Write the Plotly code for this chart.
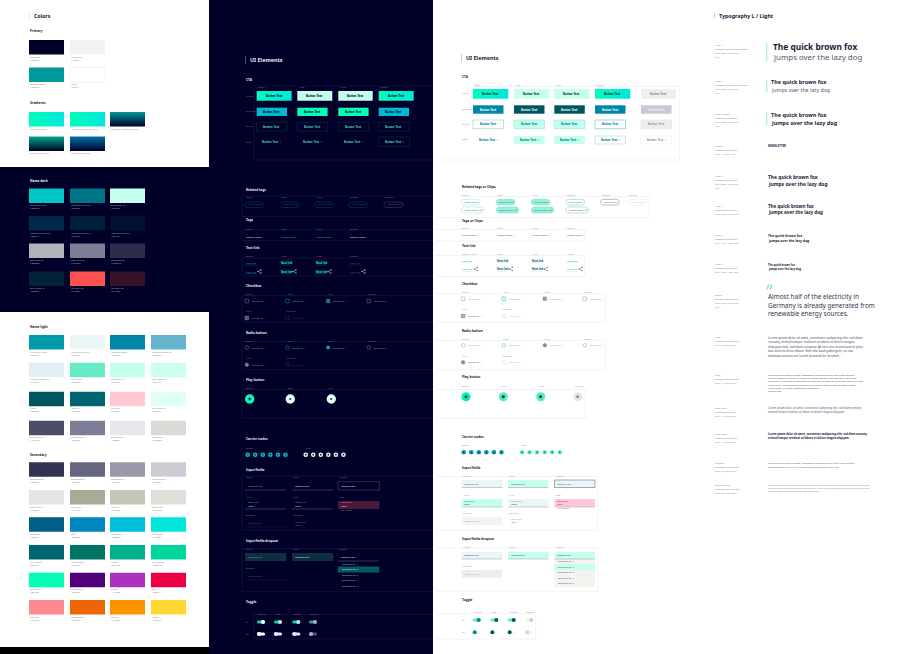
import plotly.graph_objects as go

# Colour sheet data
PRIMARY = ["#000028", "#F3F3EF", "#009999", "#FFFFFF"]
PRIMARY_NAMES = ["Deep Blue", "Light Sand", "Siemens Petrol", "White"]

GRADIENT_NAMES = ["Interactive Coral", "Interactive Coral 90 / Dark", "Gradient / Soft Dark Petrol",
                  "Gradient Dark Teal", "Gradient Dark Blue"]
GRADIENT_FROM = ["#00FFB9", "#00FFB9", "#000028", "#000028", "#000028"]
GRADIENT_TO = ["#00E6DC", "#00E6DC", "#009999", "#00A888", "#0073A8"]

DARK = ["#00C8C8", "#007587", "#C5FFEE",
        "#002949", "#001F39", "#00112F",
        "#B3B3BE", "#7D7D96", "#2D2D4B",
        "#00233A", "#FF5050", "#3A1228"]
DARK_NAMES = ["Interactive Cyan", "Interactive Cyan 70", "Soft Green 40",
              "Interactive Cyan 20", "Interactive Cyan 12", "Interactive Cyan 8",
              "Deep Blue 70", "Deep Blue 50", "Deep Blue 20",
              "Dark Green 12", "Red Dark 50", "Red Dark 20"]

LIGHT = ["#009AA9", "#EAF6F6", "#0087A8", "#66B3CC",
         "#E1F0F5", "#66EBC6", "#C5FFEE", "#CCFFEE",
         "#005660", "#006472", "#FFC8D4", "#E0FFF3",
         "#4C4C68", "#7D7D96", "#E8E8EC", "#D9D9D6"]
LIGHT_NAMES = ["Interactive Light", "Interactive Light 8", "Interactive Blue", "Interactive Blue 60",
               "Interactive Blue 12", "Soft Green", "Soft Green 40", "Soft Green 20",
               "Hover", "Hover 2", "Soft Red", "Soft Green 12",
               "Deep Blue 70", "Deep Blue 50", "Deep Blue 8", "Sand Dark"]

SECONDARY = ["#333353", "#666680", "#9999A9", "#CCCCD4",
             "#E5E5E9", "#AAAA96", "#C5C5B8", "#DFDFD9",
             "#005F87", "#0087BE", "#00BEDC", "#00E6DC",
             "#006473", "#007566", "#00AF8E", "#00D7A0",
             "#00FFB9", "#500078", "#AA32BE", "#EC0044",
             "#FF8A93", "#EC6602", "#FF9000", "#FFD732"]
SECONDARY_NAMES = ["Deep Blue 80", "Deep Blue 60", "Deep Blue 40", "Deep Blue 20",
                   "Deep Blue 10", "Sand Dark", "Sand 60", "Sand Light",
                   "Dark Blue", "Blue", "Light Blue", "Light Cyan",
                   "Dark Petrol", "Petrol Green", "Green", "Light Green",
                   "Soft Green", "Dark Purple", "Purple", "Red",
                   "Soft Red", "Dark Orange", "Orange", "Yellow"]

# UI sheet labels
STATES = ["Default", "Hover", "Active", "Focused", "Disabled"]
BUTTON_ROWS = ["Primary", "Secondary", "Tertiary", "Ghost"]
INPUT_STATES = ["Default", "Hover", "Focused", "Active", "Filled", "Error", "Disabled", "Read only"]
OPTIONS = ["Selection no. 1", "Selection no. 2", "Selection no. 3", "Selection no. 4", "Selection no. 5"]

# Typography sheet
TYPE_META = [["Hero 1", "Siemens Sans Black & Roman", "Size: 30px, Line: 37px", "-0,3"],
             ["Hero 2", "Siemens Sans Black & Roman", "Size: 20px, Line: 27px", "-0,2"],
             ["Hero 2, Black", "Siemens Sans Black", "Size: 20px, Line: 27px", "-0,2"],
             ["Tagline", "Siemens Sans Black", "Size: 14, Line: 14px", "1"],
             ["Hero 3", "Siemens Sans Black", "Size: 20px, Line: 26px", "-0,2"],
             ["Hero 4", "Siemens Sans Black", "Size: 18px, Line: 24px"],
             ["Hero 5", "Siemens Sans Black", "Size: 14px, Line: 18px"],
             ["Hero 6", "Siemens Sans Black", "Size: 12px, Line: 18px"],
             ["Quote", "Siemens Sans Roman", "Size: 24px, Line: 34px", "-0,2"],
             ["Intro", "Siemens Sans Roman", "Size: 15, Line: 24px"],
             ["Copy", "Siemens Sans Roman", "Size: 14, Line: 24px"],
             ["Copy bold", "Siemens Sans Bold", "Size: 14, Line: 24px"],
             ["Copy Black", "Siemens Sans Black", "Size: 14, Line: 24px"],
             ["Caption", "Siemens Sans Roman", "Size: 12, Line: 24px"],
             ["Caption small", "Siemens Sans Roman", "Size: 10, Line: 20px"]]
FOX = ["The quick brown fox", "jumps over the lazy dog"]
QUOTE = ["Almost half of the electricity in", "Germany is already generated from", "renewable energy sources."]
BODY = ["Lorem ipsum dolor sit amet, consetetur sadipscing elitr, sed diam",
        "nonumy eirmod tempor invidunt ut labore et dolore magna",
        "aliquyam erat, sed diam voluptua. At vero eos et accusam et justo",
        "duo dolores et ea rebum. Stet clita kasd gubergren, no sea",
        "takimata sanctus est Lorem ipsum dolor sit amet."]
INTRO = ["Lorem ipsum dolor sit amet, consetetur sadipscing elitr, sed diam nonumy",
         "eirmod tempor invidunt ut labore et dolore magna aliquyam erat, sed diam",
         "voluptua. At vero eos et accusam et justo duo dolores et ea rebum. Stet clita kasd",
         "gubergren, no sea takimata sanctus est Lorem ipsum dolor sit amet. Lorem",
         "ipsum dolor sit amet, consetetur sadipscing."]
COPY = ["Lorem ipsum dolor sit amet, consetetur sadipscing elitr, sed diam nonumy",
        "eirmod tempor invidunt ut labore et dolore magna aliquyam"]
SMALL = ["Lorem ipsum dolor sit amet, consetetur sadipscing elitr, sed diam nonumy eirmod tempor invidunt ut labore",
         "et dolore magna aliquyam erat, sed diam voluptua. At vero eos et accusam et justo duo dolores et ea rebum.",
         "Stet clita kasd gubergren, no sea takimata sanctus est."]

FONT = "Noto Sans"
NAVY = "#000028"
MINT = "#00FFB9"
PALE = "#C5FFEE"
PETROL = "#009AA9"
DARK_LINE = "#14234F"
LIGHT_LINE = "#E3E6F2"
CLEAR = "rgba(0,0,0,0)"
COLS = [29, 70, 110, 151]
SW_W, SW_H = 35, 14.5

fig = go.Figure()
shapes = []
notes = []


def box(x0, y0, x1, y1, fill=None, line=None, w=0.5, layer="above"):
    shapes.append(dict(type="rect", x0=x0, y0=y0, x1=x1, y1=y1, layer=layer, fillcolor=fill or CLEAR,
                       line=dict(color=line or CLEAR, width=w if line else 0)))


def dot(cx, cy, r, fill=None, line=None, w=0.5):
    shapes.append(dict(type="circle", x0=cx - r, y0=cy - r, x1=cx + r, y1=cy + r, layer="above",
                       fillcolor=fill or CLEAR, line=dict(color=line or CLEAR, width=w if line else 0)))


def seg(x0, y0, x1, y1, color, w=0.5):
    shapes.append(dict(type="line", x0=x0, y0=y0, x1=x1, y1=y1, layer="above", line=dict(color=color, width=w)))


def poly(path, fill=None, line=None, w=0.5):
    shapes.append(dict(type="path", path=path, layer="above", fillcolor=fill or CLEAR,
                       line=dict(color=line or CLEAR, width=w if line else 0)))


def pill(x0, y0, x1, y1, fill=None, line=None, w=0.5):
    r = (y1 - y0) / 2
    poly(f"M {x0 + r} {y0} L {x1 - r} {y0} C {x1 + r / 3} {y0} {x1 + r / 3} {y1} {x1 - r} {y1} "
         f"L {x0 + r} {y1} C {x0 - r / 3} {y1} {x0 - r / 3} {y0} {x0 + r} {y0} Z", fill, line, w)


def label(x, y, s, size=2.6, color="#555", bold=False, anchor="left"):
    notes.append(dict(x=x, y=y, text=s, showarrow=False, xanchor=anchor, yanchor="middle", borderpad=0,
                      font=dict(family=FONT, size=size, color=color, weight=700 if bold else 400)))


def gradient(x0, y0, x1, y1, c0, c1, kind="horizontal"):
    fig.add_trace(go.Scatter(x=[x0, x1, x1, x0, x0], y=[y0, y0, y1, y1, y0], mode="lines", fill="toself",
                             line=dict(width=0), hoverinfo="skip", showlegend=False,
                             fillgradient=dict(type=kind, colorscale=[[0, c0], [1, c1]])))


def swatches(colours, names, tops, n_cols, cap_color):
    for i, (c, name) in enumerate(zip(colours, names)):
        x, y = COLS[i % n_cols], tops[i // n_cols]
        box(x, y, x + SW_W, y + SW_H, fill=c, line="#E6E6E6" if c == "#FFFFFF" else None)
        label(x, y + SW_H + 2.7, name, 2.2, cap_color)
        label(x, y + SW_H + 5.7, c, 2.2, cap_color)


def section(x, y, s, color):
    label(x, y, s, 3.2, color, True)


def states(y, xs, names, color):
    for x, s in zip(xs, names):
        label(x, y, s, 2.1, color)


def btn(x0, y0, x1, y1, fill, s, tc, line=None, w=0.5, grad=False, size=2.8):
    if grad:
        gradient(x0, y0, x1, y1, MINT, "#00E6DC")
    box(x0, y0, x1, y1, fill=None if grad else fill, line=line, w=w)
    label((x0 + x1) / 2, (y0 + y1) / 2, s, size, tc, True, "center")


def share(x, y, color):
    poly(f"M {x + 3} {y - 1.6} L {x} {y} L {x + 3} {y + 1.6}", line=color, w=0.4)
    dot(x, y, 0.6, fill=color)
    dot(x + 3, y - 1.6, 0.6, fill=color)
    dot(x + 3, y + 1.6, 0.6, fill=color)


def play(cx, cy, r, fill, inner, tri):
    dot(cx, cy, r, fill=fill)
    dot(cx, cy, r * 0.38, fill=inner)
    poly(f"M {cx - 0.8} {cy - 1.3} L {cx + 1.3} {cy} L {cx - 0.8} {cy + 1.3} Z", fill=tri)


def toggle(x0, y, on, track, knob):
    pill(x0, y - 1.6, x0 + 8, y + 1.6, fill=track)
    dot(x0 + 6 if on else x0 + 2, y, 2, fill=knob)


# ------- page backgrounds
box(209, 0, 433, 654, fill=NAVY, layer="below")
box(0, 167, 209, 312, fill=NAVY, layer="below")
box(0, 647, 209, 654, fill="#000000", layer="below")

# ------- colours column
box(29.3, 13.5, 29.7, 18.5, fill="#66EBC6")
label(33, 16, "Colors", 5.2, "#1B1B3A", True)
section(29, 30.5, "Primary", "#222")
swatches(PRIMARY[:2], PRIMARY_NAMES[:2], [40], 2, "#888")
swatches(PRIMARY[2:], PRIMARY_NAMES[2:], [67.5], 2, "#888")
section(29, 102.7, "Gradients", "#222")
grad_x = [29, 70, 110, 29, 70]
grad_y = [112, 112, 112, 136.5, 136.5]
for i in range(5):
    kind = "horizontal" if i < 2 else "vertical"
    gradient(grad_x[i], grad_y[i], grad_x[i] + SW_W, grad_y[i] + SW_H, GRADIENT_FROM[i], GRADIENT_TO[i], kind)
    label(grad_x[i], grad_y[i] + SW_H + 2.7, GRADIENT_NAMES[i], 2.2, "#888")
section(29, 181, "Name dark", "#EEE")
swatches(DARK, DARK_NAMES, [188.5, 216, 243.5, 271.5], 3, "#A5A5B5")
section(29, 327.3, "Name light", "#222")
swatches(LIGHT, LIGHT_NAMES, [335, 362.7, 391.7, 420.7], 4, "#888")
section(29, 454.7, "Secondary", "#222")
swatches(SECONDARY, SECONDARY_NAMES, [462.3, 490, 517.3, 545, 572.7, 600], 4, "#888")

# ------- UI elements, dark
T, D, H = "#4FC4BC", "#77778F", "#E8E8F0"
box(245, 56, 245.5, 64, fill="#66B3CC")
label(249, 60, "UI Elements", 5.4, "#E8E8F0", True)
section(245, 79.5, "CTA", H)
seg(254, 86, 254, 160, DARK_LINE)
seg(254, 86, 433, 86, DARK_LINE)
seg(254, 160, 433, 160, DARK_LINE)
xs = [256.7, 297.3, 338.3, 378.7]
states(87.8, [x + 0.3 for x in xs], STATES, D)
for y, s in zip([96, 111.5, 126.5, 142], BUTTON_ROWS):
    label(245, y, s, 2.1, D)
for i, x in enumerate(xs):
    w1 = 35 if i != 2 else 34.4
    g = i in (0, 3)
    btn(x, 91, x + w1, 100.7, PALE if not g else None, "Button Text", NAVY, grad=g)
    btn(x, 107.7, x + 30.3, 116, "#00BBD0" if g else MINT, "Button Text", NAVY)
    btn(x, 122.3, x + 30.5, 131, None, "Button Text", T, line="#0E3A55")
    if i == 3:
        btn(x, 137, x + 31, 146.5, None, "Button Text  ›", T, line="#0E3A55")
    else:
        label(x + 15, 141.7, "Button Text  ›", 2.8, T, True, "center")

section(245, 189.7, "Related tags", H)
seg(242, 196, 433, 196, DARK_LINE)
seg(242, 196, 242, 216.5, DARK_LINE)
seg(242, 216.5, 433, 216.5, DARK_LINE)
chip_x = [245, 280, 315, 349, 384]
states(197, chip_x, STATES, D)
for i, x in enumerate(chip_x):
    pill(x, 202, x + 19, 207.6, line="#0E4A60" if i < 4 else "#556")
    label(x + 9.5, 204.8, "Lorem Ipsum", 2.3, "#1C6B80" if i < 4 else "#667", False, "center")

section(245, 219.7, "Tags", H)
seg(242, 230, 433, 230, DARK_LINE)
seg(242, 240.5, 433, 240.5, DARK_LINE)
seg(242, 230, 242, 240.5, DARK_LINE)
states(229, chip_x[:4], STATES, D)
for x, c in zip(chip_x[:4], [H, "#00C8B0", "#00C8B0", H]):
    label(x, 236.7, "Lorem Ipsum", 2.5, c)

section(245, 248, "Text link", H)
seg(242, 258, 433, 258, DARK_LINE)
seg(242, 276, 433, 276, DARK_LINE)
seg(242, 258, 242, 276, DARK_LINE)
states(256.7, chip_x[:4], STATES, D)
for x, c, bold, u in zip(chip_x[:4], ["#00A8B8", MINT, MINT, "#556"], [False, True, True, False],
                         ["#00A8B8", "#0A7", "#0A7", "#445"]):
    label(x, 263, "Next link", 2.5, c, bold)
    label(x, 271.5, "Next link", 2.5, c, bold)
    seg(x, 265, x + 11, 265, u, 0.3)
    seg(x, 273.5, x + 11, 273.5, u, 0.3)
    share(x + 13, 271.5, "#DDE")

# check boxes and radios
opt_x = [245, 285.7, 326.3, 367]
section(245, 286, "Checkbox", H)
states(294.7, opt_x, STATES, D)
seg(242, 295.5, 433, 295.5, DARK_LINE)
seg(242, 322, 433, 322, DARK_LINE)
seg(242, 295.5, 242, 322, DARK_LINE)
for x, c, f in zip(opt_x, ["#99A", "#00BBC8", "#3FA0A0", "#99A"], [None, None, "#2B6A70", None]):
    box(x, 299.2, x + 3.6, 302.8, fill=f, line=c, w=0.4)
    label(x + 5.7, 301, "option no. 1", 2.4, "#9A9AAE")
states(311.7, opt_x[:2], ["Filled", "Disabled"], D)
box(245, 316.2, 248.6, 319.8, fill="#556", line="#AAB", w=0.4)
label(250.7, 318, "option no. 1", 2.4, "#9A9AAE")
box(285.7, 316.2, 289.3, 319.8, line="#445", w=0.4)
label(291.4, 318, "option no. 1", 2.4, "#445")

section(245, 332.7, "Radio button", H)
states(341, opt_x, STATES, D)
seg(242, 341.5, 433, 341.5, DARK_LINE)
seg(242, 369.7, 433, 369.7, DARK_LINE)
seg(242, 341.5, 242, 369.7, DARK_LINE)
for x, c, f in zip(opt_x, ["#99A", "#00BBC8", "#00A8A0", "#99A"], [None, None, "#00A8A0", None]):
    dot(x + 1.8, 347.5, 1.8, fill=f, line=c, w=0.4)
    label(x + 5.7, 347.5, "option no. 1", 2.4, "#9A9AAE")
states(358.3, opt_x[:2], ["Filled", "Disabled"], D)
dot(246.8, 364.7, 1.8, fill="#778", line="#AAB", w=0.4)
label(250.7, 364.7, "option no. 1", 2.4, "#9A9AAE")
dot(287.5, 364.7, 1.8, line="#445", w=0.4)
label(291.4, 364.7, "option no. 1", 2.4, "#445")

section(245, 379.7, "Play button", H)
states(388.3, [245, 285.7, 326.3], STATES, D)
seg(242, 389.5, 433, 389.5, DARK_LINE)
seg(242, 418, 433, 418, DARK_LINE)
seg(242, 389.5, 242, 418, DARK_LINE)
for x, c, i2 in zip([249.7, 290.3, 331.3], [MINT, "#DFFFF6", "#DFFFF6"], ["#0A9A88", "#DFFFF6", "#DFFFF6"]):
    play(x, 399, 4.7, c, i2, NAVY)

section(245, 439, "Carrier nodes", H)
states(448, [245, 303.5], ["Default", "Hover"], D)
for k in range(6):
    dot(247.7 + k * 7.55, 454.7, 2.3, fill="#00BFC8")
    dot(247.7 + k * 7.55, 454.7, 0.9, fill="#004455")
    dot(305.7 + k * 7.55, 454.7, 2.3, fill="#E8FFF8")
    dot(305.7 + k * 7.55, 454.7, 0.9, fill="#002040")

# input fields
in_x = [245, 292, 338]
in_w = 41.3
section(245, 470, "Input fields", H)
seg(242, 476, 433, 476, DARK_LINE)
seg(242, 530, 433, 530, DARK_LINE)
seg(242, 476, 242, 530, DARK_LINE)
states(477.7, in_x, INPUT_STATES[:3], D)
for i, x in enumerate(in_x):
    if i == 2:
        box(x, 481.7, x + in_w, 490, line="#556", w=0.5)
    else:
        seg(x, 490, x + in_w, 490, "#667")
    label(x + 1.5, 485.8, "*Description", 2.4, "#9A9AAE" if i == 0 else H)
states(497, in_x, INPUT_STATES[3:6], D)
box(338, 501, 379.3, 509, fill="#4A1A38")
seg(245, 509, 286.3, 509, "#667")
seg(292, 509, 333.3, 509, "#667")
for x, c in zip(in_x, ["#00C8B0", "#8A8AA0", "#E07090"]):
    label(x + 1.5, 502.8, "*Description", 1.8, c)
    label(x + 1.5, 506, "Input", 2.4, H)
label(339, 510.8, "Error Message", 1.8, "#B07090")
states(515.7, in_x[:2], INPUT_STATES[6:], D)
seg(245, 527, 286.3, 527, "#223")
label(247, 523, "*Description", 2.4, "#556")
label(294, 522, "*Description", 1.8, "#778")
label(294, 525, "Input", 2.2, "#778")

section(245, 541.3, "Input fields dropout", H)
seg(242, 548.5, 433, 548.5, DARK_LINE)
seg(242, 591.7, 433, 591.7, DARK_LINE)
seg(242, 548.5, 242, 591.7, DARK_LINE)
states(549.3, in_x, INPUT_STATES[:3], D)
for i, x in enumerate(in_x):
    box(x, 553, x + in_w, 561, fill="#0C3040" if i < 2 else None)
    if i == 2:
        seg(x, 561, x + in_w, 561, "#667")
    label(x + 1.5, 557, "*Description", 2.4, "#9A9AAE" if i == 0 else H)
    label(x + in_w - 3, 557, "⌄", 2.4, "#AAB")
box(338, 566.5, 379.3, 572.5, fill="#005B66")
for k, s in enumerate(OPTIONS):
    label(341, 564 + k * 5.5, s, 2.3, "#B5B5C5" if k != 1 else H)
states(568, [245], ["Disabled"], D)
label(247, 576, "*Description", 2.4, "#556")
seg(245, 580, 286.3, 580, "#223")

section(245, 602, "Toggle", H)
seg(254, 614.5, 433, 614.5, DARK_LINE)
seg(254, 614.5, 254, 639, DARK_LINE)
seg(254, 639, 433, 639, DARK_LINE)
tog_x = [257, 274, 292.3, 309]
states(614, tog_x, ["Enabled", "Hover", "Focused", "Disabled"], D)
label(245, 622, "on", 2.2, D)
label(245, 634, "off", 2.2, D)
for x, tr, kn in zip(tog_x, ["#00D7A0", "#00D7A0", "#00D7A0", "#3A9A90"], ["#FFF", "#D8D8E0", "#D8D8E0", "#AAB"]):
    toggle(x, 622, True, tr, kn)
for x, tr, kn in zip(tog_x, ["#FFF", "#E8E8F0", "#E8E8F0", "#556"], ["#FFF", "#E8E8F0", "#E8E8F0", "#AAB"]):
    toggle(x, 634, False, tr, kn)

# ------- UI elements, light
T, D, H = "#00808F", "#999", "#222"
box(461, 54, 461.5, 62, fill="#66B3CC")
label(465, 58, "UI Elements", 5.4, "#1B1B3A", True)
section(461.3, 77.3, "CTA", H)
seg(473, 86.5, 679.3, 86.5, LIGHT_LINE)
seg(679.3, 86.5, 679.3, 160, LIGHT_LINE)
seg(435, 160, 679.3, 160, LIGHT_LINE)
xs = [473, 514, 554.3, 595, 641]
states(85, xs, STATES[:4], D)
for y, s in zip([93.7, 109.3, 124.7, 139.7], BUTTON_ROWS):
    label(461, y, s, 2.1, D)
for i, x in enumerate(xs):
    g = i in (0, 3)
    if i == 4:
        btn(x, 89, x + 35, 98.7, "#EEEEEE", "Button Text", "#888")
    else:
        btn(x, 89, x + 35.3, 98.7, PALE, "Button Text", "#00282A", grad=g)
    fill2 = {0: "#0087A8", 1: "#005660", 2: "#005660", 3: "#0087A8", 4: "#C8C8D0"}[i]
    btn(x, 105.3, x + 30.5, 113.7, fill2, "Button Text", "#E8FFFA" if i != 4 else "#EEE")
    fill3 = {0: "#FFF", 1: PALE, 2: PALE, 3: "#FFF", 4: "#EEEEEE"}[i]
    line3 = {0: "#66CCCC", 1: "#88D8C8", 2: "#88D8C8", 3: "#4FAFC0", 4: "#D8D8D8"}[i]
    btn(x, 120, x + 30.5, 128.7, fill3, "Button Text", T if i != 4 else "#999", line=line3)
    if i == 0:
        label(x + 15, 140, "Button Text  ›", 2.8, T, True, "center")
    else:
        fill4 = {1: PALE, 2: PALE, 3: "#FFF", 4: "#FFF"}[i]
        line4 = {1: None, 2: None, 3: "#8CC", 4: "#E8E8E8"}[i]
        btn(x, 136, x + 30.5, 144, fill4, "Button Text  ›", T if i != 4 else "#999", line=line4)

section(461.3, 187.3, "Related tags or Chips", H)
chip_x = [461.3, 496.3, 531.3, 566, 600.7, 628]
states(195.5, chip_x, STATES + ["Disabled"], D)
seg(461, 196.5, 649.5, 196.5, LIGHT_LINE)
seg(649.5, 196.5, 649.5, 217.5, LIGHT_LINE)
seg(435, 217.5, 649.5, 217.5, LIGHT_LINE)
chip_fill = [None, "#9CF0DA", "#9CF0DA", None, None, None]
chip_line = ["#9DDCD8", "#66D8C0", "#66D8C0", "#88B0BC", "#778", "#E4E4E4"]
for i, x in enumerate(chip_x):
    c = "#00808F" if i < 4 else ("#666" if i == 4 else "#CCC")
    pill(x, 199.3, x + 18.5, 205, fill=chip_fill[i], line=chip_line[i])
    label(x + 9.2, 202.2, "Lorem Ipsum", 2.3, c, False, "center")
    if i < 4:
        pill(x, 207, x + 22.5, 213, fill=chip_fill[i], line=chip_line[i])
        label(x + 10, 210, "Lorem Ipsum", 2.3, c, False, "center")
        poly(f"M {x + 18.5} 210 L {x + 19.5} 211 L {x + 21} 209", line="#456", w=0.4)

section(461.3, 220.5, "Tags or Chips", H)
states(228.5, chip_x[:4], STATES, D)
seg(435, 229.5, 585, 229.5, LIGHT_LINE)
seg(585, 229.5, 585, 241, LIGHT_LINE)
seg(435, 241, 585, 241, LIGHT_LINE)
for x in chip_x[:4]:
    label(x, 234.7, "Lorem Ipsum  ×", 2.4, "#556")

section(461.3, 246, "Text link", H)
states(254, chip_x[:4], ["Default / Active", "Hover", "Active", "Visited"], D)
seg(435, 255.5, 584.5, 255.5, LIGHT_LINE)
seg(584.5, 255.5, 584.5, 276.5, LIGHT_LINE)
seg(435, 276.5, 584.5, 276.5, LIGHT_LINE)
for x, c, bold in zip(chip_x[:4], ["#00A090", "#005660", "#005660", "#00A090"], [False, True, True, False]):
    label(x, 260.7, "Next link", 2.5, c, bold)
    label(x, 269, "Next link", 2.5, c, bold)
    seg(x, 262.8, x + 11, 262.8, "#9CC", 0.3)
    seg(x, 271.2, x + 11, 271.2, "#9CC", 0.3)
    share(x + 13, 269, "#556")

opt_x = [461.3, 502, 543, 583]
section(461.3, 284, "Checkbox", H)
states(292.5, opt_x, STATES, D)
seg(435, 294, 605.7, 294, LIGHT_LINE)
seg(605.7, 294, 605.7, 322, LIGHT_LINE)
seg(435, 322, 605.7, 322, LIGHT_LINE)
for x, c, f in zip(opt_x, ["#889", "#00A8A0", "#889", "#5599AA"], [None, "#E0FFF8", "#99A", None]):
    box(x, 296.9, x + 3.6, 300.5, fill=f, line=c, w=0.4)
    label(x + 5.7, 298.7, "option no. 1", 2.4, "#99A")
states(309.5, opt_x[:2], ["Filled", "Disabled"], D)
box(461.3, 314.2, 464.9, 317.8, fill="#AAB", line="#667", w=0.4)
label(467, 316, "option no. 1", 2.4, "#556")
box(502, 314.2, 505.6, 317.8, line="#CCC", w=0.4)
label(507.7, 316, "option no. 1", 2.4, "#BBB")

section(461.3, 331, "Radio button", H)
states(339, opt_x, STATES, D)
seg(435, 340.5, 605.7, 340.5, LIGHT_LINE)
seg(605.7, 340.5, 605.7, 369.7, LIGHT_LINE)
seg(435, 369.7, 605.7, 369.7, LIGHT_LINE)
for x, c, f in zip(opt_x, ["#889", "#00A8A0", "#667", "#5599AA"], [None, None, "#889", None]):
    dot(x + 1.8, 345.3, 1.8, fill=f, line=c, w=0.4)
    label(x + 5.7, 345.3, "option no. 1", 2.4, "#99A")
states(356, opt_x[:2], ["Filled", "Disabled"], D)
dot(463.1, 362.3, 1.8, fill="#889", line="#667", w=0.4)
label(467, 362.3, "option no. 1", 2.4, "#556")
dot(503.8, 362.3, 1.8, line="#CCC", w=0.4)
label(507.7, 362.3, "option no. 1", 2.4, "#BBB")

section(461.3, 377.3, "Play button", H)
states(386, [461.3, 499.5, 536.5, 574], ["Default", "Hover", "Active", "Disabled"], D)
seg(435, 389.5, 585, 389.5, LIGHT_LINE)
seg(585, 389.5, 585, 418.3, LIGHT_LINE)
seg(435, 418.3, 585, 418.3, LIGHT_LINE)
for x, c, i2, t2 in zip([466, 503.3, 540.7, 577.7], ["#00F0BE", "#5DE7BF", "#5DE7BF", "#E6E6E6"],
                        ["#008A80", "#009080", "#009080", "#BBB"], [NAVY, NAVY, NAVY, "#777"]):
    play(x, 396.7, 4.5, c, i2, t2)

section(461.3, 437, "Carrier nodes", H)
states(445, [461.3, 519.5], ["Default", "Hover"], D)
for k in range(6):
    dot(463.7 + k * 7.55, 452.3, 2.3, fill=PETROL)
    dot(463.7 + k * 7.55, 452.3, 0.9, fill="#006070")
    dot(522 + k * 7.55, 452.3, 2.3, fill="#66EBC6")
    dot(522 + k * 7.55, 452.3, 0.9, fill="#009080")

in_x = [461.7, 508, 554.5]
section(461.3, 467.7, "Input fields", H)
seg(435, 476.5, 597.7, 476.5, LIGHT_LINE)
seg(597.7, 476.5, 597.7, 530.3, LIGHT_LINE)
seg(435, 530.3, 597.7, 530.3, LIGHT_LINE)
states(476, in_x, INPUT_STATES[:3], D)
for x, f, ln in zip(in_x, ["#EAF6F6", PALE, "#EAF6F6"], [None, None, "#557"]):
    box(x, 480, x + 40.5, 487.5, fill=f, line=ln)
    if ln is None:
        seg(x, 487.5, x + 40.5, 487.5, "#99B")
    label(x + 1.5, 483.8, "*Description", 2.4, "#556")
states(495, in_x, INPUT_STATES[3:6], D)
for x, f, c in zip(in_x, [PALE, "#EAF6F6", "#FFC8D4"], ["#008A80", "#888", "#C06"]):
    box(x, 499, x + 40.5, 507, fill=f)
    seg(x, 507, x + 40.5, 507, "#99B")
    label(x + 1.5, 501, "*Description", 1.8, c)
    label(x + 1.5, 504.4, "Input", 2.4, "#334")
label(555.5, 508.5, "Error Message", 1.8, "#D05070")
states(513.7, in_x[:2], INPUT_STATES[6:], D)
box(461.7, 517, 502.2, 525, fill="#F3F3EF")
label(464, 521, "*Description", 2.4, "#AAA")
label(510, 519.5, "*Description", 1.8, "#999")
label(510, 522.7, "Input", 2.2, "#777")

section(461.3, 538.7, "Input fields dropout", H)
seg(435, 548, 597.7, 548, LIGHT_LINE)
seg(597.7, 548, 597.7, 591.3, LIGHT_LINE)
seg(435, 591.3, 597.7, 591.3, LIGHT_LINE)
states(547.3, in_x, INPUT_STATES[:3], D)
box(554.5, 559, 595, 587, fill="#F3F3EF")
box(554.5, 564, 595, 570, fill=PALE)
for x, f in zip(in_x, ["#EAF6F6", PALE, PALE]):
    box(x, 551.7, x + 40.5, 559, fill=f)
    seg(x, 559, x + 40.5, 559, "#99B")
    label(x + 1.5, 555.4, "*Description", 2.4, "#445")
    label(x + 37, 555.4, "⌄", 2.4, "#667")
for k, s in enumerate(OPTIONS):
    label(557, 561.7 + k * 5.5, s, 2.3, "#556")
states(566, [461.7], ["Disabled"], D)
box(461.7, 570, 502.2, 577.7, fill="#EEEEEE")
label(464, 573.8, "*Description", 2.4, "#AAA")

section(461.3, 600, "Toggle", H)
seg(435, 614, 535.7, 614, LIGHT_LINE)
seg(535.7, 614, 535.7, 639, LIGHT_LINE)
seg(435, 639, 535.7, 639, LIGHT_LINE)
tog_x = [472.7, 490.3, 507.7, 525.3]
states(612.3, tog_x, ["Enabled", "Hover", "Focused", "Disabled"], D)
label(461.3, 620, "on", 2.2, D)
label(461.3, 632.3, "off", 2.2, D)
for x, tr, kn in zip(tog_x, ["#66EBC6"] * 3 + ["#F0F0F0"], ["#008A8A", "#005660", "#005660", "#CCC"]):
    toggle(x, 620, True, tr, kn)
for x, kn in zip(tog_x, ["#008A8A", "#005660", "#005660", "#D5D5D5"]):
    toggle(x, 632.3, False, "#F2F8F8", kn)

# ------- typography
INK, SOFT = "#1B1B3A", "#55556F"
box(714.4, 13, 714.9, 18.5, fill="#66B3CC")
label(717.7, 15.7, "Typography L / Light", 5.3, INK, True)
meta_y = [44.7, 81, 113.7, 146, 175.7, 205.7, 235, 264, 294.7, 337, 374.7, 408, 434, 463, 485.3]
for y, lines in zip(meta_y, TYPE_META):
    for k, s in enumerate(lines):
        label(714, y + k * 4, s, 2.4, "#888")

box(766.4, 43, 767.2, 61, fill="#66EBC6")
label(771.5, 46.5, FOX[0], 8.4, INK, True)
label(771.5, 57, FOX[1], 7.9, SOFT)
box(766.4, 80, 767.2, 92, fill="#66EBC6")
label(770, 82, FOX[0], 5.5, INK, True)
label(770, 89.7, FOX[1], 5.2, SOFT)
box(766.4, 112, 767.2, 125, fill="#66EBC6")
label(770, 115, FOX[0], 5.5, INK, True)
label(770, 122.5, FOX[1], 5.5, INK, True)
label(766.7, 145.5, "NEWSLETTER", 2.8, INK, True)
for y0, y1, size in [(177, 184, 4.95), (206, 212, 4.55), (235.5, 240, 3.4), (265, 269, 2.7)]:
    label(766.5, y0, FOX[0], size, INK, True)
    label(766.5, y1, FOX[1], size, INK, True)

# quote marks
poly("M 768 284.5 L 769.4 284.5 L 767.8 289.5 L 766.4 289.5 Z", fill="#66EBC6")
poly("M 771 284.5 L 772.4 284.5 L 770.8 289.5 L 769.4 289.5 Z", fill="#66EBC6")
for y, s in zip([296.5, 305, 313.5], QUOTE):
    label(766.5, y, s, 6.4, "#33334F")
for y, s in zip([337.5, 342, 346.5, 351, 355.6], BODY):
    label(766.5, y, s, 3.1, "#44445F")
for y, s in zip([374.7, 378, 381.3, 384.6, 388, 391.2], INTRO[:5] + ["sanctus est."]):
    label(766.5, y, s, 2.5, "#55556F")
for y, s in zip([408, 412], COPY):
    label(766.5, y, s, 2.7, "#55556F")
for y, s in zip([434, 438], COPY):
    label(766.5, y, s, 2.7, "#22223A", True)
for y, s in zip([463, 466.7], COPY):
    label(766.5, y, s, 2.5, "#66667F")
for y, s in zip([485, 488.2, 491.5], SMALL):
    label(766.5, y, s, 2, "#88889F")

fig.update_layout(width=900, height=654, margin=dict(l=0, r=0, t=0, b=0), paper_bgcolor="white",
                  plot_bgcolor="white", showlegend=False, shapes=shapes, annotations=notes,
                  xaxis=dict(range=[0, 900], visible=False, fixedrange=True),
                  yaxis=dict(range=[654, 0], visible=False, fixedrange=True))
fig.write_html("out.html", config={"displayModeBar": False}, post_script="document.body.style.margin='0';")
